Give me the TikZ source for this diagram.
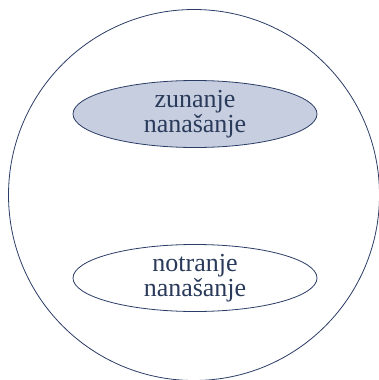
\documentclass[tikz,border=0pt]{standalone}
\usepackage{fontspec}
\setmainfont{Liberation Serif}
\usetikzlibrary{shapes.geometric}
\definecolor{obroba}{HTML}{2B3D66}
\definecolor{besedilo}{HTML}{2A3A5A}
\definecolor{polnilo}{HTML}{C6CEE0}
\begin{document}
\begin{tikzpicture}[x=1pt, y=-1pt,
		oval/.style={ellipse, draw=obroba, line width=0.8pt, minimum width=244pt, minimum height=55pt,
			inner sep=0pt, align=center, text=besedilo, font=\fontsize{26}{23}\selectfont}]
	
	% okvir slike
	\useasboundingbox (0,0) rectangle (379,380);
	
	% zunanji krog
	\node[circle, draw=obroba, line width=0.8pt, minimum size=371pt, inner sep=0pt] (krog) at (194,195) {};
	
	% zgornja in spodnja elipsa
	\node[oval, fill=polnilo] (zunanje) at (195,114) {zunanje\\nanašanje};
	\node[oval, fill=white] (notranje) at (195,278) {notranje\\nanašanje};
	
\end{tikzpicture}
\end{document}
